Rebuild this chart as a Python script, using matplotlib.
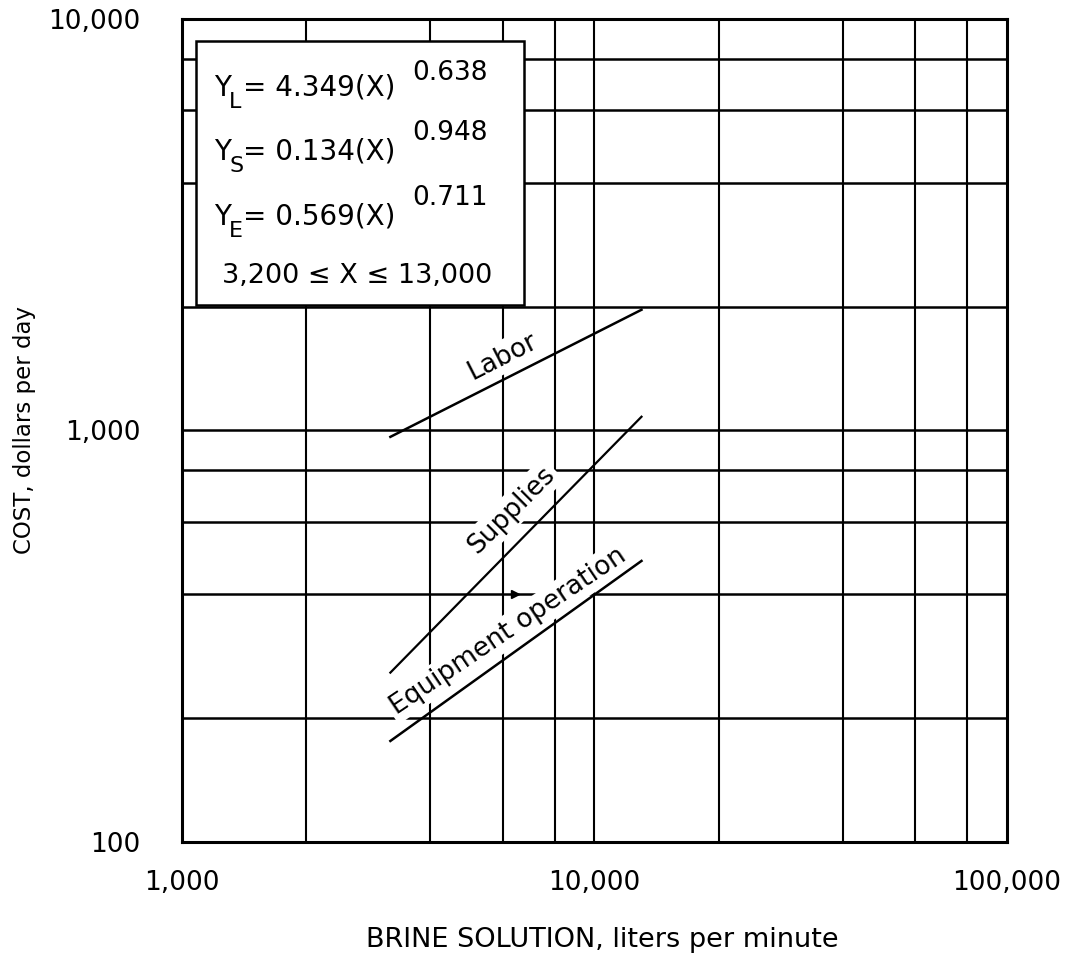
import matplotlib
matplotlib.use("Agg")
import matplotlib.pyplot as plt
from matplotlib.patches import Rectangle
from matplotlib.ticker import FixedLocator

# ---- data ----
x_range = [3200, 13000]              # brine solution, liters per minute
labor = [965, 1965]                  # cost, dollars per day
supplies = [258, 1080]
equipment = [176, 482]

x_major = [1000, 10000, 100000]
x_major_labels = ["1,000", "10,000", "100,000"]
y_major = [100, 1000, 10000]
y_major_labels = ["100", "1,000", "10,000"]
x_grid = [2000, 4000, 6000, 8000, 10000, 20000, 40000, 60000, 80000]
y_grid = [200, 400, 600, 800, 1000, 2000, 4000, 6000, 8000]

eq_subs = ["L", "S", "E"]
eq_rhs = ["= 4.349(X)", "= 0.134(X)", "= 0.569(X)"]
eq_exps = ["0.638", "0.948", "0.711"]
eq_range = "3,200 \u2264 X \u2264 13,000"

plt.rcParams['font.family'] = ['DejaVu Sans']
W, H = 1070, 959
fig = plt.figure(figsize=(10.7, 9.59), dpi=100)
ax = fig.add_axes([0.1701, 0.1220, 0.7710, 0.8582])
ax.set_xscale('log')
ax.set_yscale('log')
ax.set_xlim(1000, 100000)
ax.set_ylim(100, 10000)

# grid
for gx in x_grid:
    ax.axvline(gx, color='black', lw=1.5, zorder=1)
for gy in y_grid:
    ax.axhline(gy, color='black', lw=1.8, zorder=1)

ax.xaxis.set_major_locator(FixedLocator(x_major))
ax.yaxis.set_major_locator(FixedLocator(y_major))
ax.set_xticklabels(x_major_labels)
ax.set_yticklabels(y_major_labels)
ax.xaxis.set_minor_locator(FixedLocator([]))
ax.yaxis.set_minor_locator(FixedLocator([]))
ax.tick_params(axis='both', which='both', length=0, labelsize=19)
ax.tick_params(axis='x', pad=20)
ax.tick_params(axis='y', pad=30)
for s in ax.spines.values():
    s.set_linewidth(2.2)
    s.set_zorder(6)

# data lines
ax.plot(x_range, labor, color='black', lw=1.8, zorder=4)
ax.plot(x_range, supplies, color='black', lw=1.6, zorder=4)
ax.plot(x_range, equipment, color='black', lw=1.8, zorder=4)

bb = dict(boxstyle='square,pad=0.12', facecolor='white', edgecolor='none')
ax.text(6000, 1510, "Labor", rotation=27, ha='center', va='center',
        fontsize=19, bbox=bb, zorder=3)
ax.text(6300, 640, "Supplies", rotation=45, ha='center', va='center',
        fontsize=19, bbox=bb, zorder=3)
ax.text(6170, 325, "Equipment operation", rotation=34, ha='center', va='center',
        fontsize=19, bbox=bb, zorder=3)
ax.plot([6400], [400], marker='>', color='black', ms=6, zorder=4)

# equation box
ax.add_patch(Rectangle((0.017, 0.6525), 0.3975, 0.3208, transform=ax.transAxes,
                       facecolor='white', edgecolor='black', lw=1.8, zorder=5))


def fx(px):
    return (px - 182) / 825.0


def fy(py):
    return (842 - py) / 823.0


base_py = [96, 160, 225]
exp_py = [80, 140, 205]
for sub, rhs, e, bpy, epy in zip(eq_subs, eq_rhs, eq_exps, base_py, exp_py):
    ax.text(fx(214), fy(bpy), "Y", transform=ax.transAxes, fontsize=20,
            ha='left', va='baseline', zorder=6)
    ax.text(fx(229), fy(bpy + 12), sub, transform=ax.transAxes, fontsize=16,
            ha='left', va='baseline', zorder=6)
    ax.text(fx(243), fy(bpy), rhs, transform=ax.transAxes, fontsize=20,
            ha='left', va='baseline', zorder=6)
    ax.text(fx(412), fy(epy), e, transform=ax.transAxes, fontsize=19,
            ha='left', va='baseline', zorder=6)
ax.text(fx(357), fy(283), eq_range, transform=ax.transAxes, fontsize=19.5,
        ha='center', va='baseline', zorder=6)

fig.text(602 / W, 1 - 940 / H, "BRINE SOLUTION, liters per minute",
         ha='center', va='center', fontsize=19.5)
fig.text(25 / W, 1 - 430 / H, "COST, dollars per day", rotation=90,
         ha='center', va='center', fontsize=16.5)

fig.savefig("out.png", dpi=100)
